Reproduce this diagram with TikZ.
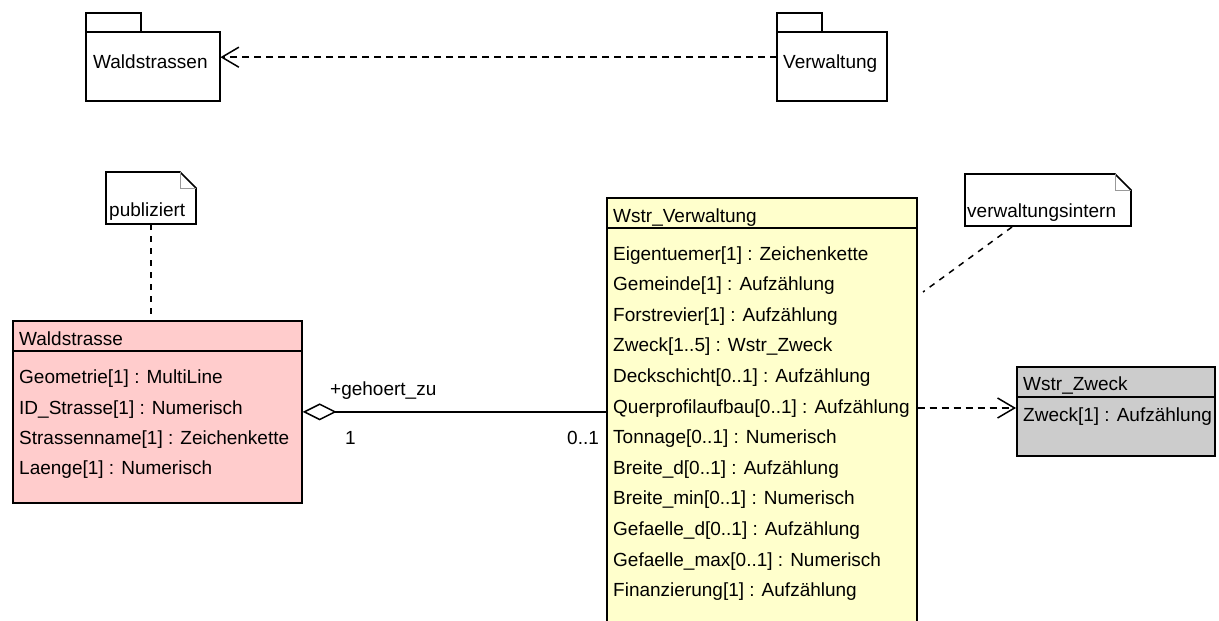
\documentclass[tikz,border=0pt]{standalone}
\usepackage{fontspec}
\setmainfont{Liberation Sans}
\usetikzlibrary{arrows.meta}
\definecolor{pinkc}{HTML}{FFCCCC}
\definecolor{yellowc}{HTML}{FFFFCC}
\definecolor{grayc}{HTML}{CCCCCC}
\begin{document}
\begin{tikzpicture}[x=1pt,y=-1pt,
  every node/.style={font=\fontsize{19}{23}\selectfont},
  txt/.style={anchor=base west,inner sep=0pt},
  boxline/.style={draw=black,line width=1.7pt},
  cls/.style={boxline,anchor=north west,inner sep=0pt},
  area/.style={anchor=north west,inner sep=0pt},
  fold/.style={draw=black!40,line width=0.9pt},
  dep/.style={line width=1.5pt,dash pattern=on 7pt off 5pt,-{Straight Barb[length=17pt,width=20pt,line width=1.5pt]}},
  notelink/.style={line width=1.5pt,dash pattern=on 6pt off 6pt},
  assoc/.style={line width=1.5pt,{Diamond[open,length=34pt,width=17pt,line width=1.5pt]}-}]
\useasboundingbox (0,0) rectangle (1219,621);
\fill[white] (0,0) rectangle (1219,621);

% packages
\node[area,minimum width=134pt,minimum height=88pt] (pw) at (86,13) {};
\draw[boxline] (86,13) rectangle (141,32);
\draw[boxline] (86,32) rectangle (220,101);
\node[txt] (pwt) at (93,68) {Waldstrassen};

\node[area,minimum width=110pt,minimum height=88pt] (pv) at (777,13) {};
\draw[boxline] (777,13) rectangle (822,32);
\draw[boxline] (777,32) rectangle (887,101);
\node[txt] (pvt) at (783,68) {Verwaltung};

\draw[dep] (pv.west) -- (pw.east);

% notes
\node[area,minimum width=90pt,minimum height=52pt] (pub) at (106,172) {};
\draw[boxline,fill=white] (106,172) -- (180,172) -- (196,188) -- (196,224) -- (106,224) -- cycle;
\draw[fold] (180,172) -- (180,188) -- (196,188);
\node[txt] (pubt) at (109,216) {publiziert};

\node[area,minimum width=166pt,minimum height=52pt] (vi) at (965,174) {};
\draw[boxline,fill=white] (965,174) -- (1115,174) -- (1131,190) -- (1131,226) -- (965,226) -- cycle;
\draw[fold] (1115,174) -- (1115,190) -- (1131,190);
\node[txt] (vit) at (967,217) {verwaltungsintern};
\coordinate (vis) at (1012,227);
\coordinate (vif) at (923,292);

% class Waldstrasse
\node[cls,fill=pinkc,minimum width=289pt,minimum height=182pt] (ws) at (12,320) {};
\draw[boxline] (ws.west |- 0,351) -- (ws.east |- 0,351);
\node[txt] (wst) at (19,345) {Waldstrasse};
\node[txt] (ws1) at (19,383) {Geometrie[1] : MultiLine};
\node[txt] (ws2) at (19,414) {ID\_Strasse[1] : Numerisch};
\node[txt] (ws3) at (19,444) {Strassenname[1] : Zeichenkette};
\node[txt] (ws4) at (19,474) {Laenge[1] : Numerisch};

% class Wstr_Verwaltung
\node[cls,fill=yellowc,minimum width=310pt,minimum height=445pt] (wv) at (606,197) {};
\draw[boxline] (wv.west |- 0,228) -- (wv.east |- 0,228);
\node[txt] (wvt) at (613,222) {Wstr\_Verwaltung};
\foreach \t [count=\i from 0] in {%
  Eigentuemer[1] : Zeichenkette,
  Gemeinde[1] : Aufzählung,
  Forstrevier[1] : Aufzählung,
  Zweck[1..5] : Wstr\_Zweck,
  Deckschicht[0..1] : Aufzählung,
  Querprofilaufbau[0..1] : Aufzählung,
  Tonnage[0..1] : Numerisch,
  Breite\_d[0..1] : Aufzählung,
  Breite\_min[0..1] : Numerisch,
  Gefaelle\_d[0..1] : Aufzählung,
  Gefaelle\_max[0..1] : Numerisch,
  Finanzierung[1] : Aufzählung}
  \node[txt] (wva\i) at (613,{260+30.6*\i}) {\t};

% class Wstr_Zweck
\node[cls,fill=grayc,minimum width=198pt,minimum height=89pt] (wz) at (1016,366) {};
\draw[boxline] (wz.west |- 0,397) -- (wz.east |- 0,397);
\node[txt] (wzt) at (1023,390) {Wstr\_Zweck};
\node[txt] (wz1) at (1023,421) {Zweck[1] : Aufzählung};

% connectors
\draw[notelink] (pub.south) -- (pub.south |- ws.north);
\draw[notelink] (vis) -- (vif);
\draw[assoc] (ws.east) -- (wv.west |- ws.east);
\node[txt] (role) at (330,395) {+gehoert\_zu};
\node[txt] (m1) at (345,444) {1};
\node[txt] (m2) at (567,444) {0..1};
\draw[dep] (wv.east |- 0,408) -- (wz.west |- 0,408);
\end{tikzpicture}
\end{document}
